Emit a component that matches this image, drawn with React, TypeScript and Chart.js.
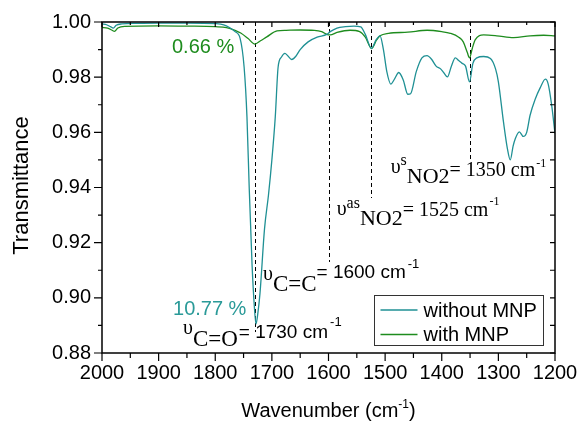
import React, { useEffect, useRef } from "react";
import { Chart, registerables } from "chart.js";

Chart.register(...registerables);

// ---------- data ----------
const seriesLabels = ["without MNP", "with MNP"];

const withoutWavenumbers = [
  2000, 1992, 1985, 1980, 1975, 1965, 1940, 1900, 1850, 1800, 1785, 1775, 1765, 1756, 1749, 1744, 1740, 1735, 1731, 1728,
  1725, 1721, 1713, 1706, 1700, 1694, 1689, 1683, 1677, 1672, 1665, 1658, 1650, 1636, 1620, 1603, 1597, 1585, 1570, 1555,
  1543, 1535, 1524, 1516, 1509, 1503, 1497, 1490, 1483, 1476, 1468, 1460, 1455, 1445, 1435, 1426, 1418, 1410, 1402, 1396,
  1390, 1383, 1376, 1370, 1364, 1358, 1351, 1345, 1338, 1326, 1314, 1305, 1300, 1291, 1284, 1279, 1274, 1270, 1263, 1256,
  1250, 1244, 1235, 1226, 1217, 1212, 1206, 1200,
];
const withoutMNP = [
  0.9993, 0.999, 0.9983, 0.9978, 0.9988, 0.9993, 0.9995, 0.9996, 0.9996, 0.9994, 0.999, 0.998, 0.9965, 0.994, 0.9836,
  0.9656, 0.9397, 0.912, 0.897, 0.8905, 0.894, 0.9016, 0.925, 0.9373, 0.95, 0.9656, 0.9836, 0.9873, 0.9886, 0.9878,
  0.9864, 0.9875, 0.99, 0.9928, 0.9945, 0.9955, 0.9965, 0.9978, 0.9983, 0.9985, 0.9982, 0.9955, 0.9904, 0.9935, 0.995,
  0.99, 0.982, 0.9775, 0.9795, 0.9817, 0.979, 0.9738, 0.974, 0.982, 0.987, 0.9878, 0.9865, 0.984, 0.983, 0.9815, 0.9801,
  0.984, 0.987, 0.986, 0.985, 0.984, 0.9783, 0.985, 0.987, 0.9875, 0.9868, 0.983, 0.9783, 0.9638, 0.954, 0.95, 0.955,
  0.9578, 0.9602, 0.9585, 0.96, 0.9662, 0.972, 0.9762, 0.9793, 0.9775, 0.97, 0.9596,
];

const withWavenumbers = [
  2000, 1990, 1982, 1978, 1972, 1960, 1900, 1850, 1800, 1780, 1765, 1755, 1742, 1730, 1720, 1709, 1691, 1675, 1650, 1625,
  1612, 1603, 1597, 1585, 1562, 1545, 1535, 1524, 1515, 1509, 1494, 1460, 1426, 1400, 1385, 1370, 1362, 1355, 1351, 1346,
  1341, 1326, 1303, 1273, 1244, 1220, 1200,
];
const withMNP = [
  0.998, 0.9978, 0.997, 0.9966, 0.9978, 0.9984, 0.9986, 0.9985, 0.9983, 0.998, 0.997, 0.996, 0.994, 0.992, 0.9932,
  0.9946, 0.9968, 0.997, 0.9971, 0.997, 0.9965, 0.9955, 0.9953, 0.9962, 0.997, 0.9965, 0.9945, 0.9904, 0.9935, 0.995,
  0.9959, 0.9963, 0.997, 0.9965, 0.9959, 0.9945, 0.9928, 0.989, 0.987, 0.9905, 0.9935, 0.9953, 0.995, 0.9943, 0.995,
  0.9952, 0.995,
];

const xTickValues = [2000, 1900, 1800, 1700, 1600, 1500, 1400, 1300, 1200];
const yTickValues = [0.88, 0.9, 0.92, 0.94, 0.96, 0.98, 1.0];

const markerWavenumbers = [1730, 1600, 1525, 1350];
const markerEnds = [0.8876, 0.913, 0.9362, 0.9496];

// ---------- styles ----------
const TEAL = "#1f9094";
const TEAL_TEXT = "#2a9a98";
const GREEN = "#1e8c1e";
const SANS = '"Liberation Sans", Arial, sans-serif';
const SERIF = '"Liberation Serif", "Times New Roman", serif';

type Seg = { t: string; font: string; dy: number; dx?: number };
type Note = { w: number; v: number; color: string; segs: Seg[] };

const notes: Note[] = [
  { w: 1876.4, v: 0.9887, color: GREEN, segs: [{ t: "0.66 %", font: `20px ${SANS}`, dy: 0 }] },
  { w: 1874.6, v: 0.89377, color: TEAL_TEXT, segs: [{ t: "10.77 %", font: `20px ${SANS}`, dy: 0 }] },
  {
    w: 1857.0,
    v: 0.88543,
    color: "#000",
    segs: [
      { t: "\u03C5", font: `20px ${SERIF}`, dy: -4 },
      { t: "C=O", font: `23px ${SERIF}`, dy: 8 },
      { t: "= 1730 cm", font: `19px ${SANS}`, dy: 0, dx: 1 },
      { t: "-1", font: `13px ${SANS}`, dy: -12, dx: 2 },
    ],
  },
  {
    w: 1715.7,
    v: 0.90717,
    color: "#000",
    segs: [
      { t: "\u03C5", font: `20px ${SERIF}`, dy: 2 },
      { t: "C=C", font: `23px ${SERIF}`, dy: 13 },
      { t: "= 1600 cm", font: `19px ${SANS}`, dy: 0 },
      { t: "-1", font: `13px ${SANS}`, dy: -10, dx: 2 },
    ],
  },
  {
    w: 1585.5,
    v: 0.92964,
    color: "#000",
    segs: [
      { t: "\u03C5", font: `20px ${SERIF}`, dy: -1 },
      { t: "as", font: `16px ${SERIF}`, dy: -8 },
      { t: "NO2", font: `22px ${SERIF}`, dy: 9 },
      { t: "= 1525 cm", font: `20px ${SERIF}`, dy: 0 },
      { t: "-1", font: `12px ${SERIF}`, dy: -11, dx: 1 },
    ],
  },
  {
    w: 1490.2,
    v: 0.94413,
    color: "#000",
    segs: [
      { t: "\u03C5", font: `20px ${SERIF}`, dy: -3 },
      { t: "s", font: `16px ${SERIF}`, dy: -11 },
      { t: "NO2", font: `22px ${SERIF}`, dy: 7 },
      { t: "= 1350 cm", font: `20px ${SERIF}`, dy: 0 },
      { t: "-1", font: `12px ${SERIF}`, dy: -9, dx: 1 },
    ],
  },
];

function drawRich(ctx: CanvasRenderingContext2D, x: number, y: number, segs: Seg[], color: string) {
  let cx = x;
  ctx.fillStyle = color;
  ctx.textBaseline = "alphabetic";
  ctx.textAlign = "left";
  for (const s of segs) {
    ctx.font = s.font;
    cx += s.dx || 0;
    ctx.fillText(s.t, cx, y + s.dy);
    cx += ctx.measureText(s.t).width;
  }
}

const decor = {
  id: "decor",
  beforeDatasetsDraw(chart: any) {
    const ctx: CanvasRenderingContext2D = chart.ctx;
    const xs = chart.scales.x;
    const ys = chart.scales.y;
    const top = chart.chartArea.top;
    ctx.save();
    ctx.strokeStyle = "#000";
    ctx.lineWidth = 1;
    ctx.setLineDash([4, 3]);
    markerWavenumbers.forEach((w, i) => {
      const px = Math.round(xs.getPixelForValue(w)) + 0.5;
      ctx.beginPath();
      ctx.moveTo(px, top);
      ctx.lineTo(px, ys.getPixelForValue(markerEnds[i]));
      ctx.stroke();
    });
    ctx.restore();
  },
  afterDraw(chart: any) {
    const ctx: CanvasRenderingContext2D = chart.ctx;
    const xs = chart.scales.x;
    const ys = chart.scales.y;
    const { left, right, top, bottom } = chart.chartArea;
    ctx.save();
    // frame
    ctx.strokeStyle = "#000";
    ctx.lineWidth = 1.5;
    ctx.setLineDash([]);
    ctx.strokeRect(left, top, right - left, bottom - top);
    // x ticks
    ctx.lineWidth = 1.2;
    for (let w = 1200; w <= 2000; w += 50) {
      const px = xs.getPixelForValue(w);
      const major = w % 100 === 0;
      ctx.beginPath();
      ctx.moveTo(px, bottom);
      ctx.lineTo(px, bottom + (major ? 8 : 5));
      ctx.moveTo(px, top);
      ctx.lineTo(px, top + (major ? 5 : 3));
      ctx.stroke();
    }
    // y ticks
    for (let i = 0; i <= 12; i++) {
      const v = 0.88 + i * 0.01;
      const py = ys.getPixelForValue(v);
      const major = i % 2 === 0;
      ctx.beginPath();
      ctx.moveTo(left, py);
      ctx.lineTo(left - (major ? 8 : 4), py);
      ctx.moveTo(right, py);
      ctx.lineTo(right - 5, py);
      ctx.stroke();
    }
    // annotations
    notes.forEach((n) => {
      drawRich(ctx, xs.getPixelForValue(n.w), ys.getPixelForValue(n.v), n.segs, n.color);
    });
    // legend
    const bw = 169;
    const bh = 50;
    const bx = Math.round(right - 12 - bw) + 0.5;
    const by = Math.round(bottom - 8 - bh) + 0.5;
    ctx.lineWidth = 1;
    ctx.strokeStyle = "#333";
    ctx.strokeRect(bx, by, bw, bh);
    const rowColors = [TEAL, GREEN];
    seriesLabels.forEach((lab, i) => {
      const ry = by + 14.5 + i * 24.5;
      ctx.strokeStyle = rowColors[i];
      ctx.lineWidth = 1.5;
      ctx.beginPath();
      ctx.moveTo(bx + 6, ry);
      ctx.lineTo(bx + 43, ry);
      ctx.stroke();
      ctx.fillStyle = "#000";
      ctx.font = `20px ${SANS}`;
      ctx.textBaseline = "middle";
      ctx.textAlign = "left";
      ctx.fillText(lab, bx + 49, ry + 1);
    });
    // y title
    ctx.save();
    ctx.translate(22, (top + bottom) / 2 - 2);
    ctx.rotate(-Math.PI / 2);
    ctx.font = `22px ${SANS}`;
    ctx.fillStyle = "#000";
    ctx.textAlign = "center";
    ctx.textBaseline = "middle";
    ctx.fillText("Transmittance", 0, 0);
    ctx.restore();
    // x title
    const segs: Seg[] = [
      { t: "Wavenumber (cm", font: `20px ${SANS}`, dy: 0 },
      { t: "-1", font: `12px ${SANS}`, dy: -9 },
      { t: ")", font: `20px ${SANS}`, dy: 0 },
    ];
    let tw = 0;
    segs.forEach((s) => {
      ctx.font = s.font;
      tw += ctx.measureText(s.t).width;
    });
    drawRich(ctx, (left + right) / 2 - tw / 2, 417, segs, "#000");
    ctx.restore();
  },
};

export default function App() {
  const ref = useRef<HTMLCanvasElement | null>(null);
  useEffect(() => {
    if (!ref.current) return;
    const chart = new Chart(ref.current, {
      type: "line",
      data: {
        datasets: [
          {
            label: seriesLabels[0],
            data: withoutWavenumbers.map((w, i) => ({ x: w, y: withoutMNP[i] })),
            borderColor: TEAL,
            borderWidth: 1.3,
            pointRadius: 0,
            cubicInterpolationMode: "monotone",
            fill: false,
          },
          {
            label: seriesLabels[1],
            data: withWavenumbers.map((w, i) => ({ x: w, y: withMNP[i] })),
            borderColor: GREEN,
            borderWidth: 1.3,
            pointRadius: 0,
            cubicInterpolationMode: "monotone",
            fill: false,
          },
        ],
      },
      options: {
        responsive: false,
        animation: false,
        devicePixelRatio: 1,
        layout: { padding: { left: 0, right: 23, top: 22, bottom: 0 } },
        plugins: { legend: { display: false }, tooltip: { enabled: false } },
        scales: {
          x: {
            type: "linear",
            reverse: true,
            min: 1200,
            max: 2000,
            grid: { display: false, drawTicks: false },
            border: { display: false },
            afterBuildTicks: (s: any) => {
              s.ticks = xTickValues.map((v) => ({ value: v }));
            },
            afterFit: (s: any) => {
              s.height = 70;
              s.paddingLeft = 0;
              s.paddingRight = 0;
            },
            ticks: {
              autoSkip: false,
              maxRotation: 0,
              padding: 8,
              color: "#000",
              font: { family: '"Liberation Sans", Arial, sans-serif', size: 20 },
              callback: (v: any) => String(v),
            },
          },
          y: {
            type: "linear",
            min: 0.88,
            max: 1.0,
            grid: { display: false, drawTicks: false },
            border: { display: false },
            afterBuildTicks: (s: any) => {
              s.ticks = yTickValues.map((v) => ({ value: v }));
            },
            afterFit: (s: any) => {
              s.width = 102;
              s.paddingTop = 0;
              s.paddingBottom = 0;
            },
            ticks: {
              padding: 11,
              color: "#000",
              font: { family: '"Liberation Sans", Arial, sans-serif', size: 20 },
              callback: (v: any) => Number(v).toFixed(2),
            },
          },
        },
      } as any,
      plugins: [decor],
    });
    return () => chart.destroy();
  }, []);
  return (
    <div style={{ position: "absolute", left: 0, top: 0, width: 578, height: 423, background: "#fff" }}>
      <canvas ref={ref} width={578} height={423} />
    </div>
  );
}
